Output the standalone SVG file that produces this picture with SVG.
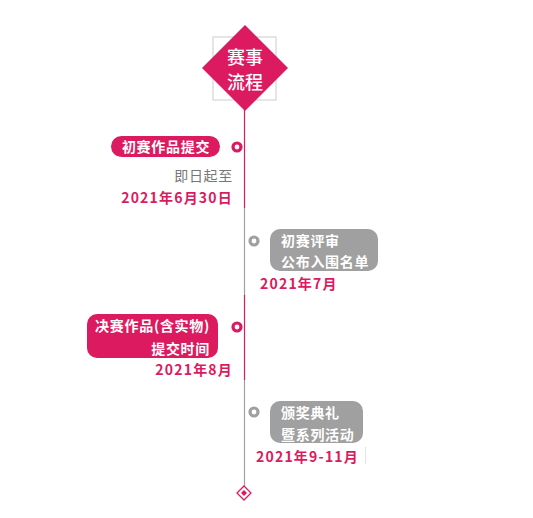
<svg xmlns="http://www.w3.org/2000/svg" width="533" height="518" viewBox="0 0 533 518">
<defs>
<style>
text{font-family:"Noto Sans CJK SC","Noto Sans",sans-serif;font-size:14px;letter-spacing:0.7px}
.w{fill:#fff}
.b{font-weight:bold}
.pk{fill:#dc1a5f}
.gy{fill:#a0a0a0}
.date{fill:#dc1a5f;font-weight:bold;letter-spacing:1.2px}
.sub{fill:#777}
.dotp{fill:#fff;stroke:#dc1a5f;stroke-width:3.2}
.dotg{fill:#fff;stroke:#a0a0a0;stroke-width:3.2}
</style>
</defs>
<rect width="533" height="518" fill="#fff"/>
<g id="connectors">
<line x1="244.5" y1="108" x2="244.5" y2="208" stroke="#dc1a5f" stroke-width="1.2"/>
<line x1="244.5" y1="208" x2="244.5" y2="295" stroke="#a0a0a0" stroke-width="1.2"/>
<line x1="244.5" y1="295" x2="244.5" y2="380" stroke="#dc1a5f" stroke-width="1.2"/>
<line x1="244.5" y1="380" x2="244.5" y2="486" stroke="#a0a0a0" stroke-width="1.2"/>
</g>
<g id="title">
<rect x="213" y="37" width="63" height="63" fill="none" stroke="#ccc" stroke-width="1"/>
<polygon points="245,25 288,68 245,111 202,68" fill="#dc1a5f"/>
<text x="245" y="64" text-anchor="middle" class="w" style="font-size:18px;letter-spacing:0px;font-weight:500">赛事</text>
<text x="245" y="89" text-anchor="middle" class="w" style="font-size:18px;letter-spacing:0px;font-weight:500">流程</text>
</g>
<g id="step1">
<rect x="111" y="136" width="109" height="21" rx="10.5" class="pk"/>
<text x="166" y="152" text-anchor="middle" class="w b">初赛作品提交</text>
<circle cx="237" cy="147" r="4" class="dotp"/>
<text x="233" y="181" text-anchor="end" class="sub">即日起至</text>
<text x="233" y="203" text-anchor="end" class="date">2021年6月30日</text>
</g>
<g id="step2">
<circle cx="254" cy="241" r="4" class="dotg"/>
<rect x="270" y="229" width="108" height="42" rx="10" class="gy"/>
<text x="281" y="246" class="w b">初赛评审</text>
<text x="281" y="267" class="w b">公布入围名单</text>
<text x="260" y="289" class="date">2021年7月</text>
</g>
<g id="step3">
<rect x="87" y="314" width="131" height="44" rx="10" class="pk"/>
<text x="210" y="331" text-anchor="end" class="w b">决赛作品(含实物)</text>
<text x="210" y="354" text-anchor="end" class="w b">提交时间</text>
<circle cx="237" cy="327" r="4" class="dotp"/>
<text x="233" y="375" text-anchor="end" class="date">2021年8月</text>
</g>
<g id="step4">
<circle cx="254" cy="412" r="4" class="dotg"/>
<rect x="270" y="401" width="93" height="42" rx="10" class="gy"/>
<text x="281" y="418" class="w b">颁奖典礼</text>
<text x="281" y="440" class="w b">暨系列活动</text>
<text x="256" y="462" class="date">2021年9-11月</text>
<line x1="365.5" y1="447" x2="365.5" y2="464" stroke="#dde4ee" stroke-width="1"/>
</g>
<g id="end">
<polygon points="244,486 251,493 244,500 237,493" fill="#fff" stroke="#dc1a5f" stroke-width="1.3"/>
<polygon points="244,490 247,493 244,496 241,493" fill="#dc1a5f"/>
</g>
</svg>
